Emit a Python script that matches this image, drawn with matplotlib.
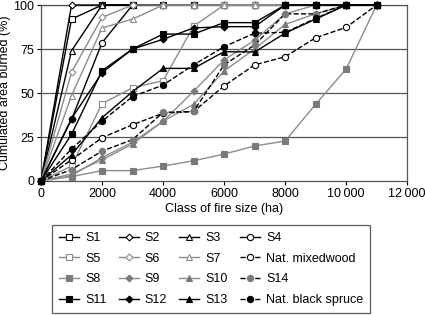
import matplotlib
matplotlib.use("Agg")
import matplotlib.pyplot as plt
from matplotlib.ticker import FuncFormatter

plt.rcParams["font.family"] = ["Liberation Sans", "DejaVu Sans"]

x = [0, 1000, 2000, 3000, 4000, 5000, 6000, 7000, 8000, 9000, 10000, 11000]

S1 = [0, 92, 100, 100, 100, 100, 100, 100, 100, 100, 100, 100]
S2 = [0, 100, 100, 100, 100, 100, 100, 100, 100, 100, 100, 100]
S3 = [0, 74, 100, 100, 100, 100, 100, 100, 100, 100, 100, 100]
S4 = [0, 35, 78.6, 100, 100, 100, 100, 100, 100, 100, 100, 100]
S5 = [0, 8.5, 44, 53, 57, 88, 100, 100, 100, 100, 100, 100]
S6 = [0, 61.8, 93, 100, 100, 100, 100, 100, 100, 100, 100, 100]
S7 = [0, 48.5, 87, 92, 100, 100, 100, 100, 100, 100, 100, 100]
nat_mixed = [0, 12, 24.6, 32, 38.5, 39.5, 54, 66, 70.6, 81.4, 87.3, 100]
S8 = [0, 2.5, 5.9, 5.9, 8.5, 11.5, 15.3, 19.9, 22.7, 43.6, 63.6, 100]
S9 = [0, 3, 13.3, 22, 34, 51, 68.8, 80, 95, 100, 100, 100]
S10 = [0, 4, 12, 21, 34, 43.6, 62.5, 75, 89, 95, 100, 100]
S14 = [0, 6.5, 17, 23.5, 39, 39.5, 66, 77.3, 95, 95, 100, 100]
S11 = [0, 26.5, 62.7, 75, 83.5, 83.5, 90, 90, 100, 100, 100, 100]
S12 = [0, 35.5, 61.5, 75, 80.5, 87, 87.7, 87.7, 100, 100, 100, 100]
S13 = [0, 14.8, 36, 50.8, 64, 64, 73.5, 73.3, 84, 92, 100, 100]
nat_black = [0, 18.2, 34, 48, 54.5, 66, 76.3, 84, 84.5, 92.4, 100, 100]

labels = ["S1", "S2", "S3", "S4",
          "S5", "S6", "S7", "Nat. mixedwood",
          "S8", "S9", "S10", "S14",
          "S11", "S12", "S13", "Nat. black spruce"]
data = [S1, S2, S3, S4, S5, S6, S7, nat_mixed, S8, S9, S10, S14,
        S11, S12, S13, nat_black]

K = "#000000"
G = "#8c8c8c"
GF = "#7a7a7a"
W = "white"
# (line color, linestyle, marker, facecolor, edgecolor, size)
styles = [
    (K, "-", "s", W, K, 4.5),
    (K, "-", "D", W, K, 3.5),
    (K, "-", "^", W, K, 4.5),
    (K, "-", "o", W, K, 4.5),
    (G, "-", "s", W, G, 4.5),
    (G, "-", "D", W, G, 3.5),
    (G, "-", "^", W, G, 4.5),
    (K, "--", "o", W, K, 4.5),
    (G, "-", "s", GF, GF, 4.5),
    (G, "-", "D", GF, GF, 3.5),
    (G, "-", "^", GF, GF, 4.5),
    (K, "--", "o", GF, GF, 4.5),
    (K, "-", "s", K, K, 4.5),
    (K, "-", "D", K, K, 3.5),
    (K, "-", "^", K, K, 4.5),
    (K, "--", "o", K, K, 4.5),
]

fig = plt.figure(figsize=(4.25, 3.15), dpi=100)
ax = fig.add_axes([0.0965, 0.4254, 0.8615, 0.5586])

for yv, lab, (c, ls, m, fc, ec, ms) in zip(data, labels, styles):
    ax.plot(x, yv, color=c, linestyle=ls, linewidth=1.0, marker=m,
            markerfacecolor=fc, markeredgecolor=ec, markersize=ms,
            markeredgewidth=0.8, label=lab, clip_on=False, zorder=3)

ax.set_xlim(0, 12000)
ax.set_ylim(0, 100)
ax.set_xticks([0, 2000, 4000, 6000, 8000, 10000, 12000])
ax.set_yticks([0, 25, 50, 75, 100])

def fmt(v, pos):
    v = int(v)
    if v >= 10000:
        return f"{v // 1000}\u2009{v % 1000:03d}"
    return str(v)

ax.xaxis.set_major_formatter(FuncFormatter(fmt))
ax.tick_params(labelsize=9, length=3, width=0.8, direction="out", pad=2)
for yy in [25, 50, 75, 100]:
    ax.axhline(yy, color="#555555", linewidth=0.9, zorder=1)
for sp in ax.spines.values():
    sp.set_color("#555555")
    sp.set_linewidth(0.9)

ax.set_xlabel("Class of fire size (ha)", fontsize=9, labelpad=2)
ax.set_ylabel("Cumulated area burned (%)", fontsize=9)
ax.yaxis.set_label_coords(-0.082, 0.5)

handles, labs = ax.get_legend_handles_labels()
# reorder so that legend rows read across (matplotlib fills column-wise)
order = []
for col in range(4):
    for row in range(4):
        order.append(row * 4 + col)
leg = fig.legend([handles[i] for i in order], [labs[i] for i in order],
                 ncol=4, loc="lower left",
                 bbox_to_anchor=(0.122, 0.006, 0.749, 0.273),
                 mode="expand", fontsize=9, frameon=True, fancybox=False,
                 edgecolor="#333333", handlelength=1.6, handletextpad=0.5,
                 columnspacing=0.5, borderaxespad=0, labelspacing=0.7,
                 borderpad=0.55)
leg.get_frame().set_linewidth(0.9)

fig.savefig("out.png", dpi=100)
